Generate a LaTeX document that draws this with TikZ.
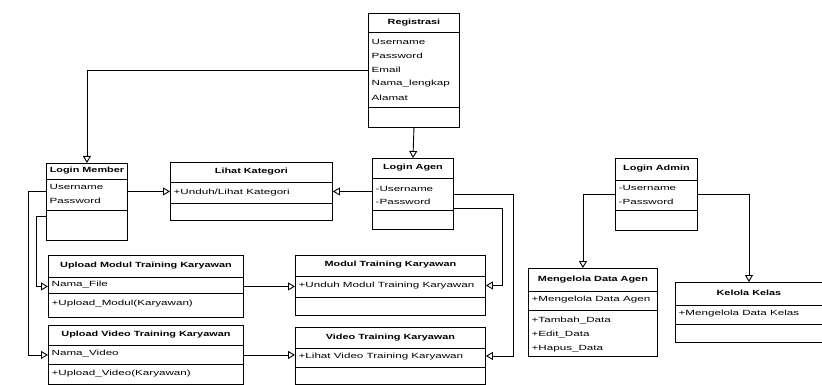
\documentclass[tikz,border=0pt]{standalone}
\usepackage{fontspec}
\setmainfont{Liberation Sans}
\usetikzlibrary{arrows.meta}
\begin{document}
\begin{tikzpicture}[x=1pt,y=-1pt,line width=0.9pt,
  cls/.style 2 args={draw,anchor=north west,inner sep=0pt,minimum width=#1,minimum height=#2},
  ttl/.style={font=\fontsize{7.5}{8}\selectfont\bfseries,xscale=1.45,inner sep=0pt},
  att/.style={font=\fontsize{7.5}{8}\selectfont,xscale=1.55,inner sep=0pt,anchor=west},
  gen/.style={-{Triangle[open,length=7pt,width=8pt]}}]
\useasboundingbox[fill=white] (0,0) rectangle (822,385);
% Registrasi
\node[cls={91pt}{114pt}] (reg) at (368,13) {};
\draw (reg.west |- 0,32) -- (reg.east |- 0,32);
\draw (reg.west |- 0,107) -- (reg.east |- 0,107);
\node[ttl] (reg-t) at (reg.north |- 0,23) {Registrasi};
\foreach \t [count=\i] in {Username,Password,Email,Nama\_lengkap,Alamat}
  \node[att] (reg-\i) at (371,28+\i*14) {\t};
% Login Member
\node[cls={81pt}{77pt}] (lm) at (46,163) {};
\draw (lm.west |- 0,179) -- (lm.east |- 0,179);
\draw (lm.west |- 0,210) -- (lm.east |- 0,210);
\node[ttl] (lm-t) at (lm.north |- 0,171) {Login Member};
\node[att] (lm-1) at (49,187) {Username};
\node[att] (lm-2) at (49,201) {Password};
% Lihat Kategori
\node[cls={162pt}{58pt}] (lk) at (170,162) {};
\draw (lk.west |- 0,182) -- (lk.east |- 0,182);
\draw (lk.west |- 0,203) -- (lk.east |- 0,203);
\node[ttl] (lk-t) at (lk.north |- 0,172) {Lihat Kategori};
\node[att] (lk-1) at (173,193) {+Unduh/Lihat Kategori};
% Login Agen
\node[cls={81pt}{71pt}] (la) at (372,158) {};
\draw (la.west |- 0,178) -- (la.east |- 0,178);
\draw (la.west |- 0,210) -- (la.east |- 0,210);
\node[ttl] (la-t) at (la.north |- 0,168) {Login Agen};
\node[att] (la-1) at (375,189) {-Username};
\node[att] (la-2) at (375,202) {-Password};
% Login Admin
\node[cls={82pt}{72pt}] (ladm) at (615,158) {};
\draw (ladm.west |- 0,180) -- (ladm.east |- 0,180);
\draw (ladm.west |- 0,210) -- (ladm.east |- 0,210);
\node[ttl] (ladm-t) at (ladm.north |- 0,169) {Login Admin};
\node[att] (ladm-1) at (618,188) {-Username};
\node[att] (ladm-2) at (618,202) {-Password};
% Upload boxes
\node[cls={195pt}{62pt}] (um) at (48,255) {};
\draw (um.west |- 0,277) -- (um.east |- 0,277);
\draw (um.west |- 0,293) -- (um.east |- 0,293);
\node[ttl] (um-t) at (um.north |- 0,266) {Upload Modul Training Karyawan};
\node[att] (um-1) at (51,285) {Nama\_File};
\node[att] (um-2) at (51,304) {+Upload\_Modul(Karyawan)};
\node[cls={195pt}{59pt}] (uv) at (48,325) {};
\draw (uv.west |- 0,345) -- (uv.east |- 0,345);
\draw (uv.west |- 0,364) -- (uv.east |- 0,364);
\node[ttl] (uv-t) at (uv.north |- 0,335) {Upload Video Training Karyawan};
\node[att] (uv-1) at (51,354) {Nama\_Video};
\node[att] (uv-2) at (51,374) {+Upload\_Video(Karyawan)};
% Training boxes
\node[cls={190pt}{60pt}] (mt) at (295,255) {};
\draw (mt.west |- 0,276) -- (mt.east |- 0,276);
\draw (mt.west |- 0,297) -- (mt.east |- 0,297);
\node[ttl] (mt-t) at (mt.north |- 0,265) {Modul Training Karyawan};
\node[att] (mt-1) at (298,286) {+Unduh Modul Training Karyawan};
\node[cls={190pt}{57pt}] (vt) at (295,327) {};
\draw (vt.west |- 0,348) -- (vt.east |- 0,348);
\draw (vt.west |- 0,367) -- (vt.east |- 0,367);
\node[ttl] (vt-t) at (vt.north |- 0,338) {Video Training Karyawan};
\node[att] (vt-1) at (298,357) {+Lihat Video Training Karyawan};
% Admin boxes
\node[cls={129pt}{88pt}] (mda) at (528,268) {};
\draw (mda.west |- 0,291) -- (mda.east |- 0,291);
\draw (mda.west |- 0,310) -- (mda.east |- 0,310);
\node[ttl] (mda-t) at (mda.north |- 0,280) {Mengelola Data Agen};
\node[att] (mda-0) at (531,300) {+Mengelola Data Agen};
\foreach \t [count=\i] in {+Tambah\_Data,+Edit\_Data,+Hapus\_Data}
  \node[att] (mda-\i) at (531,307+\i*14) {\t};
\node[cls={147pt}{60pt}] (kk) at (675,282) {};
\draw (kk.west |- 0,305) -- (kk.east |- 0,305);
\draw (kk.west |- 0,324) -- (kk.east |- 0,324);
\node[ttl] (kk-t) at (kk.north |- 0,293) {Kelola Kelas};
\node[att] (kk-1) at (678,314) {+Mengelola Data Kelas};
% Connectors
\draw[gen] (reg.west |- reg-3) -| (lm.north);
\draw[gen] (reg.south) -- (la.north);
\draw[gen] (lm.east |- lk.west) -- (lk.west);
\draw[gen] (la.west |- lk.east) -- (lk.east);
\draw[gen] (lm.west |- lk.west) -- ++(-18,0) |- (uv.west);
\draw[gen] ([yshift=-14pt]lm.west) -- ++(-10,0) |- (um.west);
\draw[gen] (um.east) -- (mt.west |- um.east);
\draw[gen] (uv.east) -- (vt.west |- uv.east);
\draw[gen] (la.east) -- ++(60,0) |- (vt.east);
\draw[gen] ([yshift=-14pt]la.east) -- ++(49,0) |- (mt.east);
\draw[gen] (ladm.west) -| ([xshift=-10pt]mda.north);
\draw[gen] (ladm.east) -| (kk.north);
\end{tikzpicture}
\end{document}
